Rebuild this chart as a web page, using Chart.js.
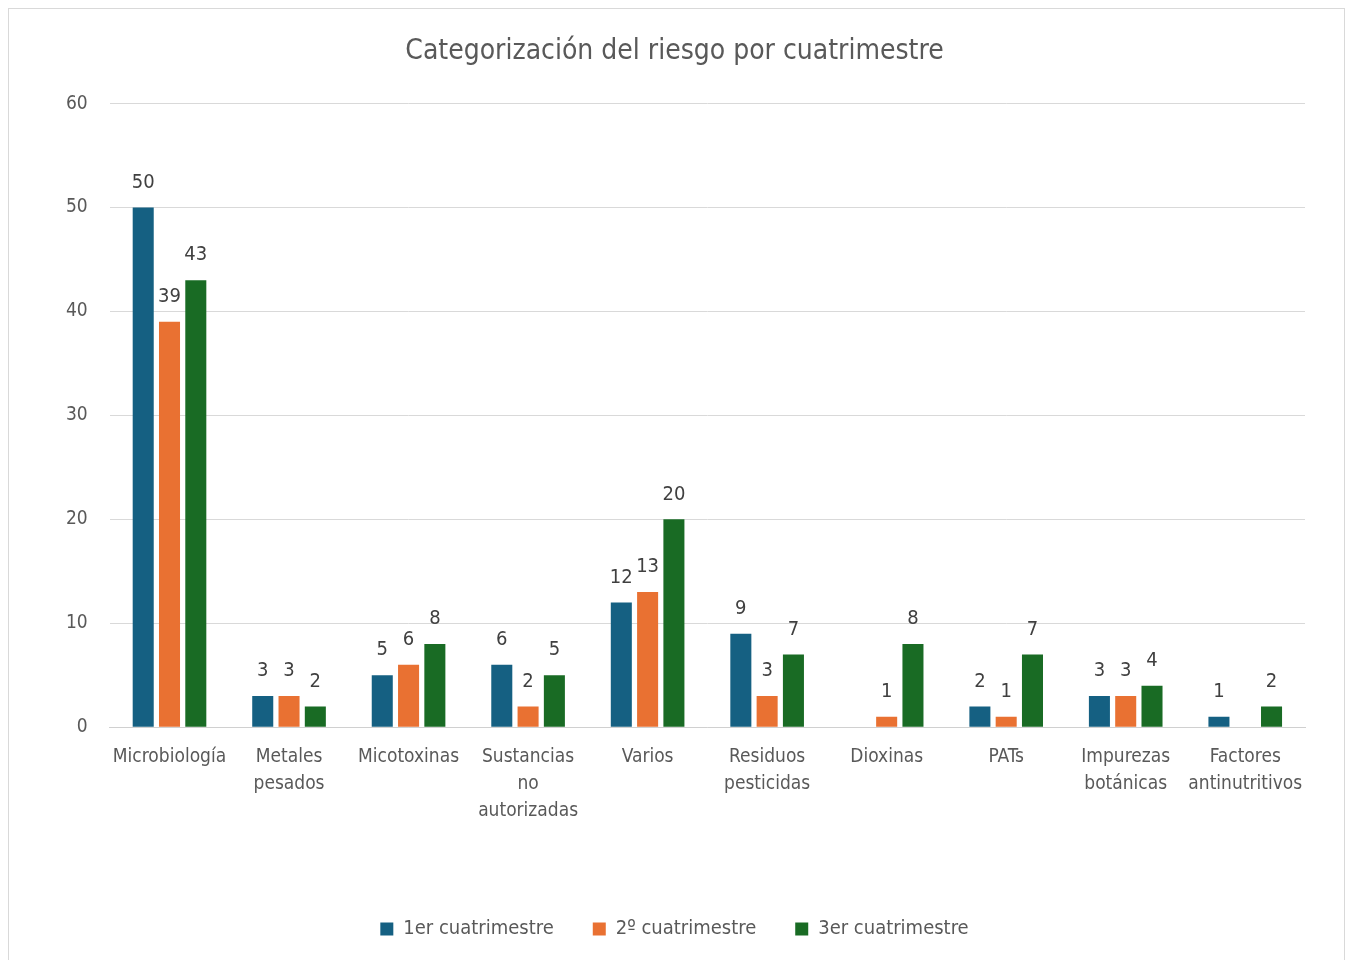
<!DOCTYPE html>
<html>
<head>
<meta charset="utf-8">
<script src="https://cdn.jsdelivr.net/npm/chart.js@4.4.1/dist/chart.umd.min.js"></script>
<style>
  html, body { margin: 0; padding: 0; background: #fff; }
  #frame { position: absolute; left: 8px; top: 8px; width: 1337px; height: 960px; border: 1px solid #d9d9d9; box-sizing: border-box; }
  #wrap { position: absolute; left: 0; top: 0; width: 1335px; height: 950px; }
</style>
</head>
<body>
<div id="frame"><div id="wrap"><canvas id="chart"></canvas></div></div>
<script>
// categories and series
const categories = [
  "Microbiología", ["Metales", "pesados"], "Micotoxinas", ["Sustancias", "no", "autorizadas"],
  "Varios", ["Residuos", "pesticidas"], "Dioxinas", "PATs", ["Impurezas", "botánicas"], ["Factores", "antinutritivos"]
];
const seriesNames = ["1er cuatrimestre", "2º cuatrimestre", "3er cuatrimestre"];
const q1 = [50, 3, 5, 6, 12, 9, null, 2, 3, 1];
const q2 = [39, 3, 6, 2, 13, 3, 1, 1, 3, null];
const q3 = [43, 2, 8, 5, 20, 7, 8, 7, 4, 2];
const yTicks = [0, 10, 20, 30, 40, 50, 60];
const colors = ["#156082", "#E97132", "#196B24"];

const FONT = "'Liberation Sans Narrow', 'DejaVu Sans Condensed', sans-serif";

// draws the value above each bar
const valueLabels = {
  id: "valueLabels",
  afterDatasetsDraw(chart) {
    const ctx = chart.ctx;
    ctx.save();
    ctx.font = "20px " + FONT;
    ctx.fillStyle = "#404040";
    ctx.textAlign = "center";
    ctx.textBaseline = "bottom";
    chart.data.datasets.forEach((ds, i) => {
      chart.getDatasetMeta(i).data.forEach((bar, j) => {
        const v = ds.data[j];
        if (v == null) return;
        ctx.fillText(String(v), bar.x, bar.y - 15);
      });
    });
    ctx.restore();
  },
};

new Chart(document.getElementById("chart"), {
  type: "bar",
  data: {
    labels: categories,
    datasets: [q1, q2, q3].map((d, i) => ({
      label: seriesNames[i],
      data: d,
      backgroundColor: colors[i],
      barPercentage: 0.8,
      categoryPercentage: 0.66,
    })),
  },
  options: {
    responsive: true, maintainAspectRatio: false, animation: false,
    layout: { padding: { left: 35, right: 39, top: 10, bottom: 10 } },
    plugins: {
      title: {
        display: true, text: "Categorización del riesgo por cuatrimestre",
        color: "#595959", font: { family: FONT, size: 28, weight: "normal" },
        padding: { top: 16, bottom: 35 },
      },
      legend: {
        position: "bottom",
        labels: { color: "#595959", font: { family: FONT, size: 20 }, boxWidth: 13, boxHeight: 13, padding: 39 },
      },
      tooltip: { enabled: false },
    },
    scales: {
      x: {
        grid: { display: false },
        border: { color: "#d0d0d0" },
        ticks: { color: "#595959", font: { family: FONT, size: 19, lineHeight: 1.4 }, maxRotation: 0, autoSkip: false, padding: 9 },
        afterFit: (axis) => { axis.height += 47; },
      },
      y: {
        min: 0, max: 60,
        afterBuildTicks: (axis) => { axis.ticks = yTicks.map((v) => ({ value: v })); },
        grid: { color: "#d9d9d9", drawTicks: false },
        border: { display: false },
        ticks: { color: "#595959", font: { family: FONT, size: 19 }, padding: 22 },
      },
    },
  },
  plugins: [valueLabels],
});
</script>
</body>
</html>
